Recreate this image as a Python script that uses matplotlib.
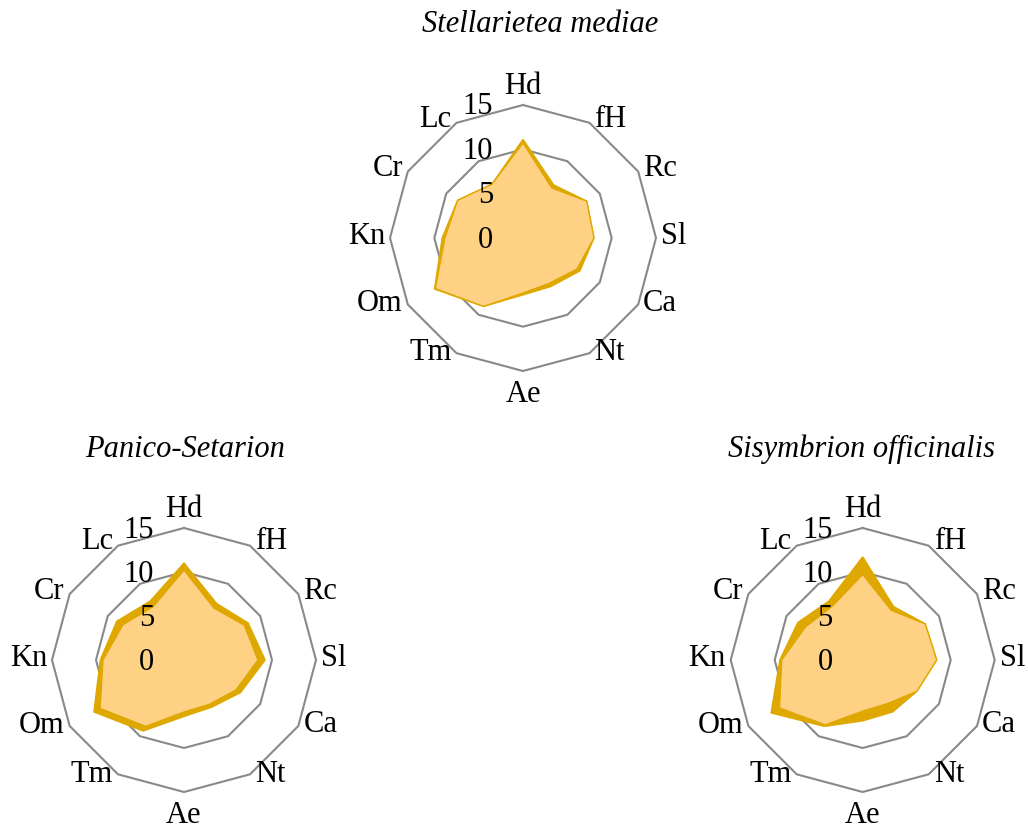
import numpy as np
import matplotlib
matplotlib.use("Agg")
import matplotlib.pyplot as plt

# ---- data ----
categories = ["Hd", "fH", "Rc", "Sl", "Ca", "Nt", "Ae", "Tm", "Om", "Kn", "Cr", "Lc"]
radial_ticks = [0, 5, 10, 15]
titles = ["Stellarietea mediae", "Panico-Setarion", "Sisymbrion officinalis"]

stellarietea_a = [11.1, 6.9, 8.3, 8.0, 7.4, 6.3, 6.4, 8.9, 11.5, 9.1, 8.5, 7.0]
stellarietea_b = [10.7, 6.5, 8.3, 8.0, 7.0, 5.9, 6.2, 8.9, 11.4, 8.8, 8.5, 7.0]

panico_a = [11.0, 7.4, 8.4, 9.2, 7.4, 6.2, 6.4, 9.3, 11.8, 9.5, 8.8, 7.7]
panico_b = [10.2, 6.8, 7.9, 8.4, 6.8, 5.8, 5.9, 8.7, 11.0, 9.2, 8.0, 7.0]

sisymbrion_a = [11.7, 7.0, 8.2, 8.4, 7.1, 6.8, 6.9, 8.7, 12.0, 9.4, 8.5, 7.7]
sisymbrion_b = [9.7, 6.5, 8.2, 8.4, 7.1, 5.7, 5.8, 8.5, 10.9, 9.2, 7.5, 7.0]

# ---- style ----
DARK = "#DFA800"
LIGHT = "#FFD185"
GRID = "#898989"
FONT = "Liberation Serif"
FS = 22
W, H = 1028, 830

fig = plt.figure(figsize=(W / 100, H / 100), dpi=100)


def pt(v):
    return v * 0.72  # pixels -> points


def radar(cx, cy, rad, series_a, series_b, title, title_x, title_y):
    rect = [(cx - rad) / W, (H - cy - rad) / H, 2 * rad / W, 2 * rad / H]
    ax = fig.add_axes(rect, projection="polar")
    ax.set_theta_zero_location("N")
    ax.set_theta_direction(-1)
    ax.set_ylim(0, 15)
    ax.axis("off")
    n = len(categories)
    theta = np.linspace(0, 2 * np.pi, n, endpoint=False)
    closed = np.append(theta, theta[0])
    for g in radial_ticks[1:]:
        ax.plot(closed, [g] * (n + 1), color=GRID, lw=1.5, zorder=1, clip_on=False)
    ax.fill(closed, list(series_a) + [series_a[0]], facecolor=DARK, edgecolor=DARK,
            lw=1.2, zorder=2, clip_on=False)
    ax.fill(closed, list(series_b) + [series_b[0]], facecolor=LIGHT, edgecolor=DARK,
            lw=0.9, zorder=3, clip_on=False)
    for t in radial_ticks:
        ax.annotate(str(t), xy=(0, t), xytext=(-pt(30), -pt(2)), textcoords="offset points",
                    ha="right", va="center", fontsize=FS, family=FONT, zorder=5,
                    annotation_clip=False)
    for th, lab in zip(theta, categories):
        s, c = np.sin(th), np.cos(th)
        if abs(s) < 0.01:
            ha = "center"
            va = "bottom" if c > 0 else "top"
            off = (0, pt(4) if c > 0 else -pt(9))
        else:
            ha = "left" if s > 0 else "right"
            va = "center"
            off = (pt(5) if s > 0 else -pt(5), pt(2 + 2 * c))
        ax.annotate(lab, xy=(th, 15), xytext=off, textcoords="offset points",
                    ha=ha, va=va, fontsize=FS, family=FONT, annotation_clip=False)
    fig.text(title_x / W, 1 - title_y / H, title, ha="center", va="center",
             fontsize=FS, family=FONT, style="italic")


radar(523, 238, 133, stellarietea_a, stellarietea_b, titles[0], 540, 25)
radar(184, 660, 132, panico_a, panico_b, titles[1], 185, 449)
radar(862.7, 660, 132, sisymbrion_a, sisymbrion_b, titles[2], 862, 449)

fig.savefig("out.png", dpi=100, facecolor="white")
